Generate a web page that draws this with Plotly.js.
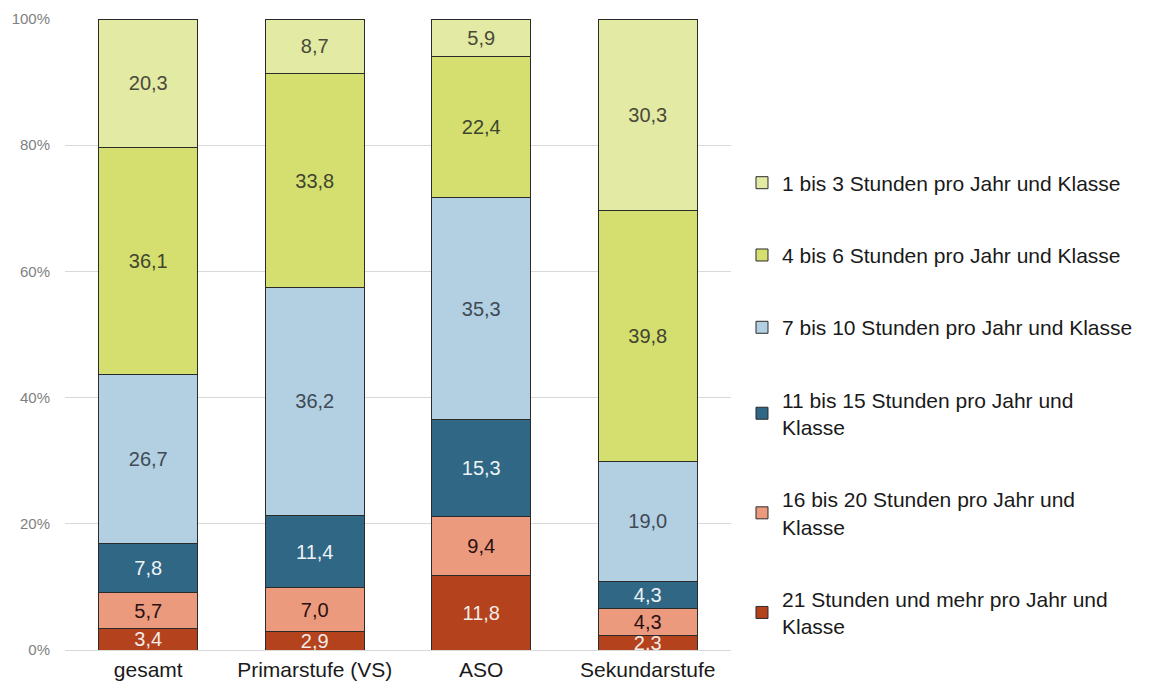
<!DOCTYPE html>
<html>
<head>
<meta charset="utf-8">
<script src="https://cdn.plot.ly/plotly-3.0.1.min.js"></script>
<style>html,body{margin:0;padding:0;background:#fff;}#chart{width:1150px;height:685px;}</style>
</head>
<body>
<div id="chart"></div>
<script>
const categories = ["gesamt", "Primarstufe (VS)", "ASO", "Sekundarstufe"];
const seriesNames = [
  "21 Stunden und mehr pro Jahr und<br>Klasse",
  "16 bis 20 Stunden pro Jahr und<br>Klasse",
  "11 bis 15 Stunden pro Jahr und<br>Klasse",
  "7 bis 10 Stunden pro Jahr und Klasse",
  "4 bis 6 Stunden pro Jahr und Klasse",
  "1 bis 3 Stunden pro Jahr und Klasse"
];
const h21plus = [3.4, 2.9, 11.8, 2.3];
const h16to20 = [5.7, 7.0, 9.4, 4.3];
const h11to15 = [7.8, 11.4, 15.3, 4.3];
const h7to10 = [26.7, 36.2, 35.3, 19.0];
const h4to6 = [36.1, 33.8, 22.4, 39.8];
const h1to3 = [20.3, 8.7, 5.9, 30.3];
const tickVals = [0, 20, 40, 60, 80, 100];

const seriesValues = [h21plus, h16to20, h11to15, h7to10, h4to6, h1to3];
const colors = ["#b3421d", "#ec9a7e", "#2f6785", "#b3cfe2", "#d5df6f", "#e2eaa4"];
const textColors = ["#f4ece8", "#2a1010", "#eef3f6", "#3f4a55", "#3f4530", "#4a4a3a"];
const FONT = "Liberation Sans, Arial, sans-serif";

const traces = seriesValues.map((vals, i) => ({
  type: "bar",
  name: seriesNames[i],
  x: categories,
  y: vals,
  legendgroup: "g" + i,
  legendrank: 100 * (seriesValues.length - i),
  text: vals.map(v => v.toFixed(1).replace(".", ",")),
  textposition: "inside",
  insidetextanchor: "middle",
  textangle: 0,
  textfont: {family: FONT, size: 20, color: textColors[i]},
  marker: {color: colors[i], line: {color: "#2b2b2b", width: 1}},
  width: 0.595,
  hoverinfo: "none"
}));

const layout = {
  width: 1150,
  height: 685,
  barmode: "stack",
  barnorm: "percent",
  paper_bgcolor: "#ffffff",
  plot_bgcolor: "#ffffff",
  font: {family: FONT, color: "#222"},
  margin: {l: 65, r: 413, t: 19, b: 35},
  uniformtext: {mode: "show", minsize: 20},
  xaxis: {
    type: "category",
    tickfont: {family: FONT, size: 21, color: "#1a1a1a"},
    showgrid: false,
    showline: false,
    zeroline: false,
    ticks: "",
    ticklabelstandoff: 5,
    automargin: false
  },
  yaxis: {
    range: [0, 100],
    tickvals: tickVals,
    ticktext: tickVals.map(v => v + "%"),
    tickfont: {family: FONT, size: 15, color: "#7f7f7f"},
    gridcolor: "#d9d9d9",
    gridwidth: 1,
    zeroline: true,
    zerolinecolor: "#d9d9d9",
    showline: false,
    ticks: "",
    ticklabelstandoff: 14,
    automargin: false
  },
  showlegend: true,
  legend: {
    x: 1.0165,
    xanchor: "left",
    y: 0.389,
    yanchor: "middle",
    traceorder: "grouped",
    tracegroupgap: 42,
    font: {family: FONT, size: 21, color: "#1a1a1a"},
    bgcolor: "rgba(0,0,0,0)"
  }
};

Plotly.newPlot("chart", traces, layout, {displayModeBar: false, staticPlot: true});
</script>
</body>
</html>
